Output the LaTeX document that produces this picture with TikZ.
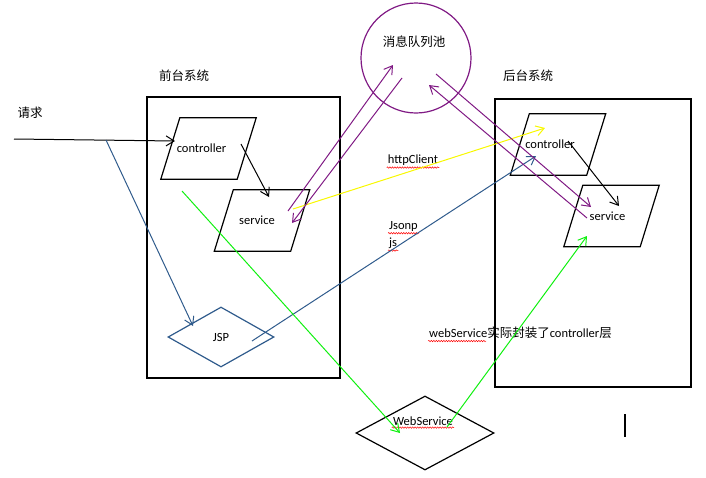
\documentclass[tikz,border=0pt]{standalone}
\usepackage{fontspec}
\setmainfont{Carlito}
\newfontfamily\cjk{Noto Sans CJK SC}
\usetikzlibrary{shapes.geometric, arrows.meta, decorations.pathmorphing}

\definecolor{linkblue}{HTML}{2F5B8C}
\definecolor{mqpurple}{HTML}{801A84}
\definecolor{wsgreen}{HTML}{10F010}
\definecolor{httpyellow}{HTML}{F8F800}

\begin{document}
\begin{tikzpicture}[x=1pt, y=-1pt,
  font=\fontsize{12.5}{15}\selectfont,
  sysbox/.style={draw, line width=1.5pt, inner sep=0pt},
  layer/.style={minimum width=95pt, minimum height=61pt, inner sep=1pt},
  dia/.style={diamond, draw, line width=1.2pt, inner sep=0pt},
  txt/.style={inner sep=1pt},
  arr/.style={-{Straight Barb[length=8pt,width=10pt]}, line width=1pt},
  spell/.style={draw=red, line width=0.5pt, decorate,
    decoration={snake, amplitude=0.7pt, segment length=2.5pt}}
]
\useasboundingbox (0,0) rectangle (706,477);

% the two systems
\node[sysbox, minimum width=193pt, minimum height=281pt] (lbox) at (243.5,237.5) {};
\node[sysbox, minimum width=196pt, minimum height=288pt] (rbox) at (593,243) {};
\node[txt] (ltitle) at (184,76) {\cjk 前台系统};
\node[txt] (rtitle) at (528,76) {\cjk 后台系统};

% message queue
\node[circle, draw=mqpurple, line width=1.2pt, minimum size=110pt, inner sep=0pt] (mq) at (416,58) {};
\node[txt] (mqlabel) at (414,42) {\cjk 消息队列池};

% layers of each system (a trailing kern pulls the text a little left)
\node[layer] (lctrl) at (208.5,148.5) {controller\kern14pt};
\node[layer] (lsvc) at (262,220.5) {service\kern10pt};
\node[layer] (rctrl) at (558,144.5) {controller\kern16pt};
\node[layer] (rsvc) at (611.5,216) {service\kern8pt};
% parallelogram outlines, leaning right
\foreach \n in {lctrl,lsvc,rctrl,rsvc}
  \draw[line width=1.2pt, line join=miter]
    (\n.south west) -- ([xshift=19pt]\n.north west) -- (\n.north east)
    -- ([xshift=-19pt]\n.south east) -- cycle;

% JSP and WebService
\node[dia, draw=linkblue, minimum width=106pt, minimum height=60pt] (jsp) at (221,337) {JSP};
\node[dia, minimum width=138pt, minimum height=74pt] (ws) at (425,433) {};
\node[txt] (wslabel) at (423,421) {WebService};
\draw[spell] ([yshift=-1pt]wslabel.south west) -- ([yshift=-1pt]wslabel.south east);

% free labels
\node[txt] (reqlabel) at (30,113) {\cjk 请求};
\node[txt] (http) at (413,160) {httpClient};
\draw[spell] ([yshift=-1pt]http.south west) -- ([yshift=-1pt]http.south east);
\node[txt, anchor=west] (jsonp) at (388,226) {Jsonp};
\draw[spell] ([yshift=-1pt]jsonp.south west) -- ([yshift=-1pt]jsonp.south east);
\node[txt, anchor=west] (js) at (388,243) {js};
\draw[spell] ([yshift=-1pt]js.south west) -- ([yshift=-1pt]js.south east);
\node[txt] (note) at (520.5,333) {webService{\cjk 实际封装了}controller{\cjk 层}};
\draw[spell] ([yshift=-1pt]note.south west) -- ([shift={(58,1)}]note.south west);

% text cursor
\coordinate (caretTop) at (625,414);
\coordinate (caretBot) at (625,437);
\draw[line width=1.2pt] (caretTop) -- (caretBot);

% request entry
\coordinate (req) at (14,139);
\coordinate (split) at (106,140);
\draw[arr] (req) -- ([shift={(-33.5,-7.5)}]lctrl.center);
\draw[arr, linkblue] (split) -- ([shift={(-28,-11)}]jsp.center);

% controller -> service inside each system
\draw[arr] ([shift={(32.5,-4.5)}]lctrl.center) -- ([shift={(7,-23.5)}]lsvc.center);
\draw[arr] ([shift={(10,-3.5)}]rctrl.center) -- ([shift={(7.5,-10)}]rsvc.center);

% JSP -> back-end controller (Jsonp / js)
\draw[arr, linkblue] ([shift={(31,4)}]jsp.center) -- ([shift={(-22,11.5)}]rctrl.center);

% httpClient
\draw[arr, httpyellow] ([shift={(31,-11.5)}]lsvc.center) -- ([shift={(-13,-16.5)}]rctrl.center);

% WebService path
\draw[arr, wsgreen] ([shift={(-26.5,42.5)}]lctrl.center) -- ([shift={(-25,0)}]ws.center);
\draw[arr, wsgreen] ([shift={(22,-6)}]ws.center) -- ([shift={(-24.5,20)}]rsvc.center);

% message queue traffic
\draw[arr, mqpurple] ([shift={(26,-9.5)}]lsvc.center) -- ([shift={(-23,7)}]mq.center);
\draw[arr, mqpurple] ([shift={(-14,20)}]mq.center) -- ([shift={(30,2.5)}]lsvc.center);
\draw[arr, mqpurple] ([shift={(20,16)}]mq.center) -- ([shift={(-20.5,-9)}]rsvc.center);
\draw[arr, mqpurple] ([shift={(-24.5,2)}]rsvc.center) -- ([shift={(13,27)}]mq.center);
\end{tikzpicture}
\end{document}
